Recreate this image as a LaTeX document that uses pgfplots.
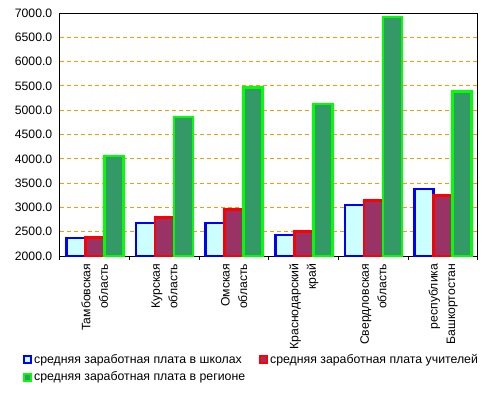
\documentclass[border=0pt]{standalone}
\usepackage{pgfplots}
\pgfplotsset{compat=1.18}
\usepackage{fontspec}
\setmainfont{Liberation Sans}
\definecolor{schoolfill}{HTML}{CCFFFF}
\definecolor{teachfill}{HTML}{993366}
\definecolor{regfill}{HTML}{339966}
\definecolor{gridor}{HTML}{FF9900}
\begin{document}
\begin{tikzpicture}
\begin{axis}[
 at={(0,0)}, anchor=south west,
 scale only axis, width=418bp, height=243bp,
 xmin=-0.5, xmax=5.5, ymin=2000, ymax=7000,
 ybar=0pt, bar width=19bp,
 axis line style={black, line width=1bp},
 xtick={0,...,5},
 xticklabels={{Тамбовская\\область},{Курская\\область},{Омская\\область},{Краснодарский\\край},{Свердловская\\область},{республика\\Башкортостан}},
 x tick label style={rotate=90, anchor=east, align=right, font=\fontsize{12.2bp}{17.5bp}\selectfont},
 major x tick style={draw=none},
 minor xtick={-0.5,0.5,...,5.5},
 minor x tick style={black, line width=1bp},
 tick align=outside, minor tick length=4bp,
 xtick pos=bottom, ytick pos=left,
 ytick={2000,2500,...,7000},
 ytick style={draw=none},
 y tick label style={/pgf/number format/.cd, fixed, fixed zerofill, precision=1, 1000 sep={}, assume math mode=true, /tikz/.cd, font=\fontsize{12.2bp}{14bp}\selectfont},
 ymajorgrids,
 grid style={color=gridor, line width=1bp, dash pattern=on 4bp off 3bp},
 major grid style={color=gridor, line width=1bp, dash pattern=on 4bp off 3bp},
 legend columns=2,
 legend style={at={(rel axis cs:-0.0957,-0.387)}, anchor=north west, draw=none, fill=none,
   font=\fontsize{12.3bp}{14bp}\selectfont, row sep=3bp,
   /tikz/every even column/.append style={column sep=12bp}},
 legend cell align=left,
 legend image code/.code={\draw[#1, line width=2bp] (0bp,-3.5bp) rectangle (7bp,3.5bp);},
]
\addplot[fill=schoolfill, draw=blue, line width=2.7bp] coordinates {(0,2370) (1,2680) (2,2680) (3,2430) (4,3050) (5,3380)};
\addplot[fill=teachfill, draw=red, line width=2.7bp] coordinates {(0,2375) (1,2790) (2,2960) (3,2505) (4,3140) (5,3250)};
\addplot[fill=regfill, draw=green, line width=2.7bp] coordinates {(0,4060) (1,4860) (2,5460) (3,5130) (4,6920) (5,5380)};
\legend{средняя заработная плата в школах, средняя заработная плата учителей, средняя заработная плата в регионе}
\end{axis}
\pgfresetboundingbox
\path (-60bp,-139bp) rectangle (433bp,256bp);
\end{tikzpicture}
\end{document}
